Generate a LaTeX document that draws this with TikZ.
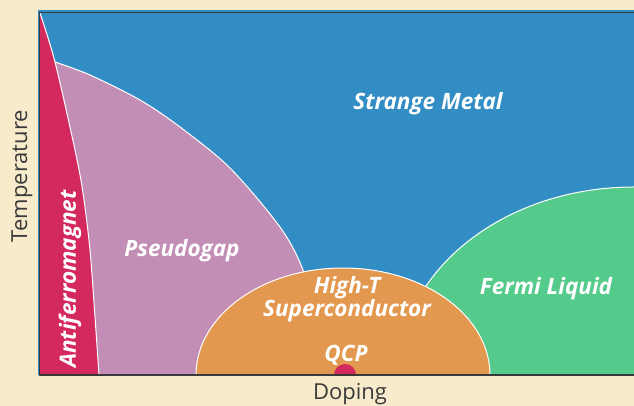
\documentclass[tikz,border=0pt]{standalone}
\usepackage{fontspec}
\setmainfont{Open Sans}
\usepackage{tikz}

\definecolor{bgbeige}{HTML}{F7EBCC}
\definecolor{metalblue}{HTML}{318DC3}
\definecolor{afmred}{HTML}{D3295E}
\definecolor{pgmauve}{HTML}{C38EB5}
\definecolor{scorange}{HTML}{E3984F}
\definecolor{flgreen}{HTML}{55CB8B}
\definecolor{axisdark}{HTML}{3A3A3A}

\tikzset{
  phase/.style={draw=white, line width=1pt},
  regionlabel/.style={text=white, font=\bfseries\itshape\fontsize{22.5}{21}\selectfont, align=center, inner sep=0pt},
  axislabel/.style={text=axisdark, font=\fontsize{22}{24}\selectfont, inner sep=0pt}
}

\begin{document}
\begin{tikzpicture}[x=1pt,y=1pt]
\useasboundingbox (0,0) rectangle (634,406);
% Page background
\fill[bgbeige] (0,0) rectangle (634,406);

% Strange metal fills the whole plot
\fill[metalblue] (38,31) rectangle (634,396);

\begin{scope}
\clip (39.5,31) rectangle (634,393.5);
% Pseudogap
\filldraw[pgmauve, phase] (40,344) -- plot[smooth] coordinates {(55,344) (90,331) (140,306) (180,279) (230,238) (280,179) (303,136) (322,70) (328,31)} -- (40,31) -- cycle;
% Antiferromagnet
\filldraw[afmred, phase] plot[smooth] coordinates {(40,393) (55,344) (75,256) (83,213) (90,156) (95,89) (99,31)} -- (38,31) -- (38,393) -- cycle;
% Fermi liquid
\filldraw[flgreen, phase] (634,31) ellipse [x radius=236, y radius=188];
% Superconducting dome
\filldraw[scorange, phase] (343,31) ellipse [x radius=147, y radius=107];
% QCP dot
\fill[afmred] (345,31) circle (11);
\end{scope}

% Axes
\draw[axisdark, line width=1.5pt] (634,393.5) -- (39.5,393.5) -- (39.5,31) -- (634,31);

% Phase labels
\node[regionlabel] (metal) at (428,302) {Strange Metal};
\node[regionlabel] (pseudo) at (182,155) {Pseudogap};
\node[regionlabel, rotate=90] (afm) at (70,127) {Antiferromagnet};
\node[regionlabel] (sc) at (347,107) {High-T\\Superconductor};
\node[regionlabel] (qcp) at (346,51) {QCP};
\node[regionlabel] (fermi) at (546,117) {Fermi Liquid};

% Axis labels
\node[axislabel, rotate=90] (temp) at (22,230) {Temperature};
\node[axislabel] (doping) at (350,11.5) {Doping};

\end{tikzpicture}
\end{document}
